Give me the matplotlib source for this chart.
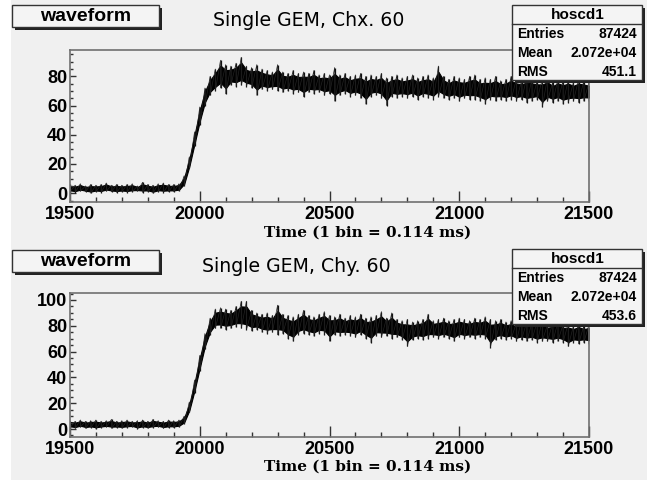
import numpy as np
import matplotlib
matplotlib.use("Agg")
from matplotlib import pyplot as plt
from matplotlib.patches import Rectangle
from matplotlib.ticker import MultipleLocator

# time axis (bins), one envelope sample every 20 bins
t = np.arange(19500, 21501, 20)

# Chx. 60 : upper / lower edge of the noisy trace
chx_hi = [6, 5.5, 6.5, 5, 6, 5.5, 6, 7, 5.5, 6,
          5.5, 6, 6.5, 5, 7.5, 6, 5.5, 6.5, 7, 6,
          6, 6.5, 12, 25, 42, 59, 72, 80, 85, 91,
          88, 87, 89, 93, 87, 86, 88, 85, 84, 83,
          88, 83, 82, 84, 82, 83, 82, 84, 81, 82,
          81, 86, 81, 82, 80, 81, 82, 80, 81, 80,
          82, 79, 80, 81, 79, 80, 81, 79, 80, 81,
          79, 87, 80, 78, 80, 79, 78, 80, 81, 78,
          79, 78, 80, 77, 78, 80, 78, 77, 79, 78,
          77, 78, 79, 76, 78, 77, 78, 76, 78, 77, 76]
chx_lo = [1, 0.5, 1.5, 1, 0, 1, 0.5, 1.5, 1, 0.5,
          1, 0.5, 1, 1.5, 0.5, 1, 0, 1, 0.5, 1,
          1, 1.5, 5, 17, 32, 47, 60, 67, 70, 72,
          68, 74, 73, 74, 73, 72, 67, 71, 70, 71,
          70, 69, 70, 68, 69, 66, 69, 68, 69, 67,
          68, 63, 67, 68, 66, 67, 65, 61, 66, 67,
          65, 60, 66, 65, 66, 65, 66, 64, 66, 65,
          64, 66, 65, 64, 65, 63, 65, 64, 64, 63,
          61, 64, 63, 64, 63, 64, 63, 64, 62, 63,
          64, 59, 63, 62, 63, 61, 62, 63, 62, 63, 63]

# Chy. 60
chy_hi = [6.5, 6, 7, 6, 6.5, 7, 6, 6.5, 7.5, 6,
          6.5, 7, 6, 6.5, 7, 6, 7.5, 6.5, 6, 7,
          6.5, 7, 10, 21, 38, 57, 74, 86, 93, 94,
          93, 92, 95, 99, 99, 92, 90, 89, 90, 88,
          96, 89, 88, 87, 89, 92, 88, 87, 89, 91,
          88, 87, 89, 86, 88, 87, 89, 86, 87, 88,
          91, 86, 90, 85, 84, 85, 83, 84, 85, 89,
          84, 85, 86, 84, 85, 86, 85, 84, 86, 85,
          87, 85, 84, 85, 83, 84, 82, 84, 83, 82,
          83, 84, 81, 82, 83, 81, 82, 80, 82, 80, 81]
chy_lo = [1, 0.5, 1.5, 0.5, 1, 0, 1, 1.5, 0.5, 1,
          0.5, 1, 1.5, 0, 1, 0.5, 1, 1.5, 0.5, 1,
          1, 1.5, 4, 13, 28, 45, 62, 73, 78, 78,
          77, 78, 79, 78, 77, 76, 77, 75, 74, 75,
          73, 74, 70, 68, 73, 74, 73, 72, 74, 73,
          68, 73, 72, 73, 72, 71, 73, 70, 67, 72,
          71, 72, 70, 71, 69, 64, 69, 70, 69, 70,
          71, 70, 71, 70, 68, 71, 70, 71, 70, 71,
          70, 63, 69, 70, 69, 70, 68, 69, 68, 69,
          67, 68, 68, 67, 68, 67, 64, 67, 66, 67, 66]

titles = ["Single GEM, Chx. 60", "Single GEM, Chy. 60"]
rms = ["451.1", "453.6"]
entries = "87424"
mean = "2.072e+04"
xlabel = "Time (1 bin = 0.114 ms)"

W, H = 655, 480
bg = "#f0f0f0"
fig = plt.figure(figsize=(W / 100, H / 100), dpi=100)
fig.patch.set_facecolor("white")
fig.add_artist(Rectangle((11 / W, 0), (647 - 11) / W, 1, transform=fig.transFigure,
                         facecolor=bg, edgecolor="none", zorder=-5))

def px(l, top, r, b):
    return [l / W, 1 - b / H, (r - l) / W, (b - top) / H]

panels = [
    dict(box=px(70, 50, 589, 202), hi=chx_hi, lo=chx_lo, ylim=(-6, 98), ymax=80),
    dict(box=px(70, 293, 589, 437), hi=chy_hi, lo=chy_lo, ylim=(-6.2, 105.4), ymax=100),
]

tickfont = dict(family="Liberation Sans", weight="bold", size=13)
for p in panels:
    ax = fig.add_axes(p["box"])
    ax.set_facecolor(bg)
    hi = np.array(p["hi"])
    lo = np.array(p["lo"])
    mid = (hi + lo) / 2
    half = (hi - lo) / 2
    # dense core of the trace plus the spikes reaching the envelope
    ax.fill_between(t, mid - 0.62 * half, mid + 0.62 * half, color="black", lw=0.8)
    ax.vlines(t, lo, hi, color="#111", lw=0.9)
    xs = np.repeat(t, 2)
    ys = np.column_stack([hi, lo]).ravel()
    ax.plot(xs, ys, color="#222", lw=0.5)
    ax.set_xlim(19500, 21500)
    ax.set_ylim(*p["ylim"])
    ax.xaxis.set_major_locator(MultipleLocator(500))
    ax.xaxis.set_minor_locator(MultipleLocator(100))
    ax.set_yticks(np.arange(0, p["ymax"] + 1, 20))
    ax.yaxis.set_minor_locator(MultipleLocator(5))
    ax.tick_params(axis="x", which="major", direction="in", length=8, width=1, pad=3, colors="#333")
    ax.tick_params(axis="x", which="minor", direction="in", length=3.6, width=1, colors="#333")
    ax.tick_params(axis="y", which="major", direction="in", length=4.5, width=1, pad=2, colors="#333")
    ax.tick_params(axis="y", which="minor", direction="in", length=2.2, width=1, colors="#333")
    for lab in ax.get_xticklabels() + ax.get_yticklabels():
        lab.set_fontproperties(tickfont)
        lab.set_color("black")
    for s in ax.spines.values():
        s.set_color("#707070")
        s.set_linewidth(1.2)

# overlay in pixel coordinates for the ROOT boxes and labels
ov = fig.add_axes([0, 0, 1, 1], facecolor="none")
ov.set_xlim(0, W)
ov.set_ylim(H, 0)
ov.axis("off")

def shadow_box(l, top, r, b):
    ov.add_patch(Rectangle((l + 3, top + 3), r - l, b - top, facecolor="#222", edgecolor="none"))
    ov.add_patch(Rectangle((l, top), r - l, b - top, facecolor="#f4f4f4", edgecolor="#333", lw=1))

for k, off in enumerate([0, 245]):
    # title tag
    shadow_box(12, 5 + off, 159, 27 + off)
    ov.text(86, 16.5 + off, "waveform", ha="center", va="center",
            family="Liberation Sans", weight="bold", size=14)
    ov.text([309, 296][k], 21 + off, titles[k], ha="center", va="center",
            family="DejaVu Sans", size=13.6)
    # stats box
    sb_top = [5, 249][k]
    shadow_box(512, sb_top, 642, sb_top + 75)
    ov.plot([512, 642], [sb_top + 18.5, sb_top + 18.5], color="#333", lw=1)
    ov.text(578, sb_top + 10, "hoscd1", ha="center", va="center",
            family="Liberation Sans", weight="bold", size=11)
    rows = [("Entries", entries), ("Mean", mean), ("RMS", rms[k])]
    for i, (a, b) in enumerate(rows):
        yy = sb_top + 29 + 19 * i
        ov.text(517, yy, a, ha="left", va="center", family="Liberation Sans", weight="bold", size=10)
        ov.text(637, yy, b, ha="right", va="center", family="Liberation Sans", weight="bold", size=10)
    # x axis title
    ov.text(471, [233, 467][k], xlabel, ha="right", va="center",
            family="DejaVu Serif", weight="bold", size=11)

fig.savefig("out.png", dpi=100)
